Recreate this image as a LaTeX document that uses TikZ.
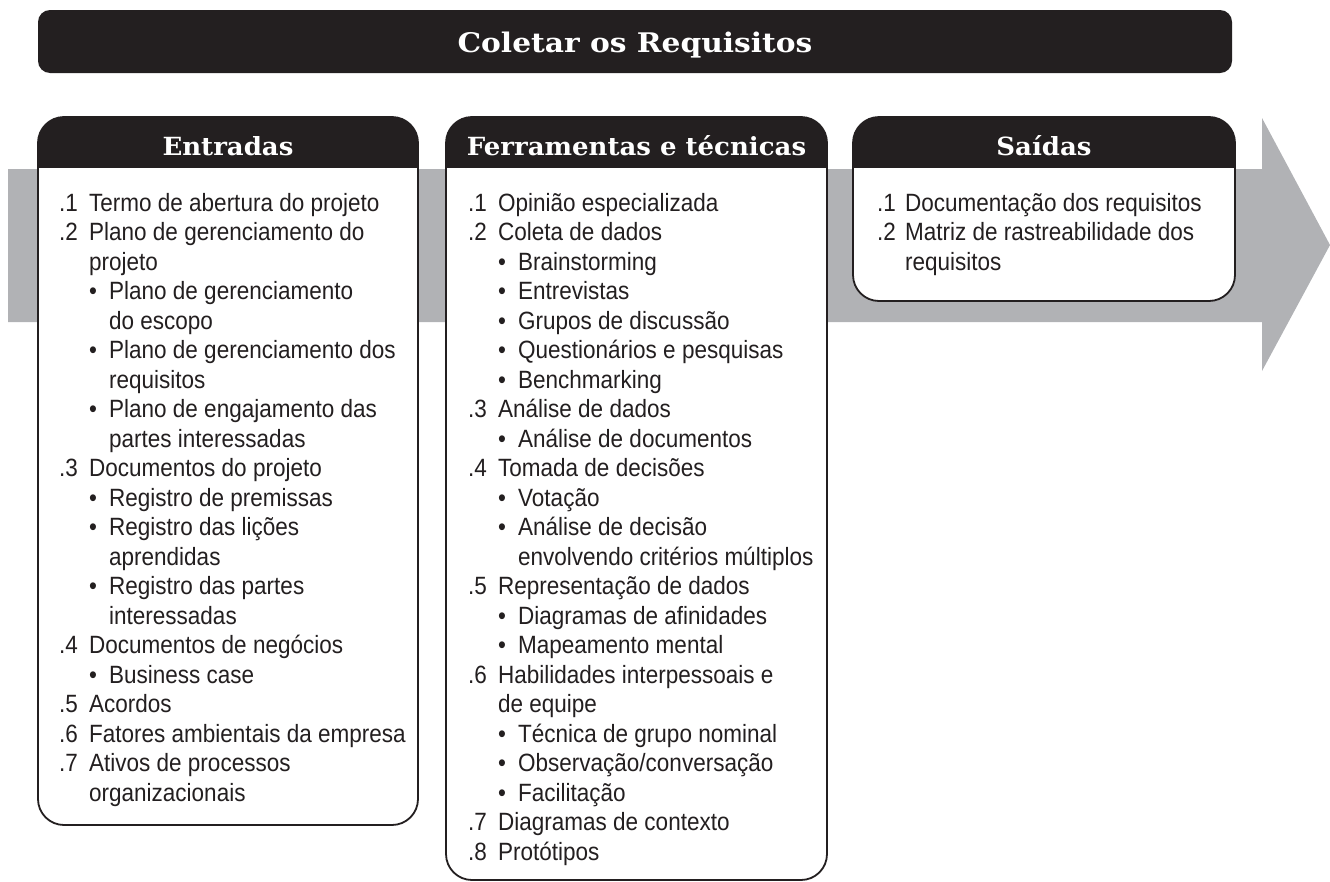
\documentclass[tikz,border=0pt]{standalone}
\usepackage{fontspec}
\setmainfont{Liberation Sans}[FakeStretch=0.9]
\newfontfamily\hdrfont{DejaVu Serif}[FakeStretch=1.04]
\newfontfamily\ttlfont{DejaVu Serif}[FakeStretch=1.1]
\definecolor{inkdark}{HTML}{231F20}
\definecolor{bandgray}{HTML}{B1B2B5}
\newcommand\nitem[2]{\makebox[\numw][l]{#1}#2\par}
\newcommand\ncont[1]{\hspace*{\numw}#1\par}
\newcommand\bitem[1]{\hspace*{\numw}\makebox[20pt][l]{\textbullet}#1\par}
\newcommand\bcont[1]{\hspace*{\numw}\hspace*{20pt}#1\par}
\newlength\numw
\setlength\numw{30pt}
\tikzset{
  hdrfill/.style={fill=inkdark},
  boxline/.style={draw=inkdark, line width=1.8pt, rounded corners=26pt},
  hdrtext/.style={text=white, font=\hdrfont\bfseries\fontsize{25}{28}\selectfont, inner sep=0pt, anchor=base},
  titletext/.style={text=white, font=\ttlfont\bfseries\fontsize{27}{30}\selectfont, inner sep=0pt, anchor=base},
  bodytext/.style={text=inkdark, inner sep=0pt, anchor=base west, font=\fontsize{25}{29.5}\selectfont}
}
\begin{document}
\begin{tikzpicture}[x=1pt,y=-1pt]
\useasboundingbox (0,0) rectangle (1330,881);
% gray arrow
\fill[bandgray] (8,169) -- (1262,169) -- (1262,118) -- (1330,245) -- (1262,371) -- (1262,322) -- (8,322) -- cycle;
% title bar
\fill[hdrfill, rounded corners=12pt] (38,10) rectangle (1232,73);
\node[titletext] (title) at (635,52) {Coletar os Requisitos};
% boxes
\foreach \xa/\xb/\yb in {38/418/825, 446/827/880, 853/1235/301}{
  \begin{scope}
    \clip[rounded corners=26pt] (\xa,117) rectangle (\xb,\yb);
    \fill[white] (\xa,117) rectangle (\xb,\yb);
    \fill[hdrfill] (\xa,117) rectangle (\xb,168);
  \end{scope}
  \draw[boxline] (\xa,117) rectangle (\xb,\yb);
}
\node[hdrtext] (hin) at (228,155) {Entradas};
\node[hdrtext] (htools) at (636.5,155) {Ferramentas e técnicas};
\node[hdrtext] (hout) at (1044,155) {Saídas};
% inputs
\node[bodytext] (tin) at (59,211) {\begin{minipage}[t]{355pt}\setlength\parindent{0pt}
\nitem{.1}{Termo de abertura do projeto}
\nitem{.2}{Plano de gerenciamento do}
\ncont{projeto}
\bitem{Plano de gerenciamento}
\bcont{do escopo}
\bitem{Plano de gerenciamento dos}
\bcont{requisitos}
\bitem{Plano de engajamento das}
\bcont{partes interessadas}
\nitem{.3}{Documentos do projeto}
\bitem{Registro de premissas}
\bitem{Registro das lições}
\bcont{aprendidas}
\bitem{Registro das partes}
\bcont{interessadas}
\nitem{.4}{Documentos de negócios}
\bitem{Business case}
\nitem{.5}{Acordos}
\nitem{.6}{Fatores ambientais da empresa}
\nitem{.7}{Ativos de processos}
\ncont{organizacionais}
\end{minipage}};
% tools
\node[bodytext] (ttools) at (468,211) {\begin{minipage}[t]{355pt}\setlength\parindent{0pt}
\nitem{.1}{Opinião especializada}
\nitem{.2}{Coleta de dados}
\bitem{Brainstorming}
\bitem{Entrevistas}
\bitem{Grupos de discussão}
\bitem{Questionários e pesquisas}
\bitem{Benchmarking}
\nitem{.3}{Análise de dados}
\bitem{Análise de documentos}
\nitem{.4}{Tomada de decisões}
\bitem{Votação}
\bitem{Análise de decisão}
\bcont{envolvendo critérios múltiplos}
\nitem{.5}{Representação de dados}
\bitem{Diagramas de afinidades}
\bitem{Mapeamento mental}
\nitem{.6}{Habilidades interpessoais e}
\ncont{de equipe}
\bitem{Técnica de grupo nominal}
\bitem{Observação/conversação}
\bitem{Facilitação}
\nitem{.7}{Diagramas de contexto}
\nitem{.8}{Protótipos}
\end{minipage}};
% outputs
\node[bodytext] (tout) at (877,211) {\begin{minipage}[t]{355pt}\setlength\parindent{0pt}\setlength\numw{28pt}
\nitem{.1}{Documentação dos requisitos}
\nitem{.2}{Matriz de rastreabilidade dos}
\ncont{requisitos}
\end{minipage}};
\end{tikzpicture}
\end{document}
